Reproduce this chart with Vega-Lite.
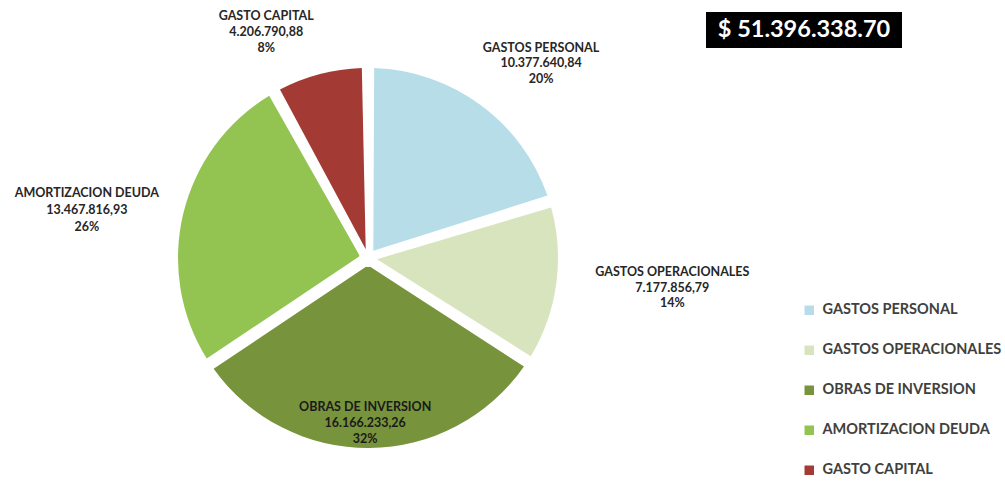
{
  "$schema": "https://vega.github.io/schema/vega-lite/v6.json",
  "width": 736,
  "height": 448,
  "autosize": {"type": "none"},
  "padding": {"left": 0, "top": 34, "right": 269, "bottom": 0},
  "background": "white",
  "config": {"view": {"stroke": null}, "font": "Lato"},
  "layer": [
    {
      "data": {
        "values": [
          {"category": "GASTOS PERSONAL", "value": 10377640.84, "valueText": "10.377.640,84", "pctText": "20%", "order": 1},
          {"category": "GASTOS OPERACIONALES", "value": 7177856.79, "valueText": "7.177.856,79", "pctText": "14%", "order": 2},
          {"category": "OBRAS DE INVERSION", "value": 16166233.26, "valueText": "16.166.233,26", "pctText": "32%", "order": 3},
          {"category": "AMORTIZACION DEUDA", "value": 13467816.93, "valueText": "13.467.816,93", "pctText": "26%", "order": 4},
          {"category": "GASTO CAPITAL", "value": 4206790.88, "valueText": "4.206.790,88", "pctText": "8%", "order": 5}
        ]
      },
      "transform": [
        {"calculate": "[datum.category, datum.valueText, datum.pctText]", "as": "label"},
        {"stack": "value", "groupby": [], "sort": [{"field": "order"}], "offset": "normalize", "as": ["v0", "v1"]},
        {"calculate": "(datum.v0 + datum.v1) / 2", "as": "mid"}
      ],
      "encoding": {
        "theta": {"field": "mid", "type": "quantitative", "stack": null, "scale": {"domain": [0, 1], "zero": true, "nice": false}}
      },
      "layer": [
        {
          "mark": {"type": "arc", "outerRadius": 190, "innerRadius": 9, "padAngle": 0.065},
          "encoding": {
            "theta": {"field": "v0", "type": "quantitative", "stack": null, "scale": {"domain": [0, 1], "zero": true, "nice": false}},
            "theta2": {"field": "v1"},
            "color": {
              "field": "category",
              "type": "nominal",
              "scale": {
                "domain": ["GASTOS PERSONAL", "GASTOS OPERACIONALES", "OBRAS DE INVERSION", "AMORTIZACION DEUDA", "GASTO CAPITAL"],
                "range": ["#B7DEE8", "#D7E4BD", "#77933C", "#93C452", "#A33A33"]
              },
              "legend": {
                "title": null,
                "orient": "none",
                "legendX": 802,
                "legendY": 269,
                "symbolType": "square",
                "symbolSize": 90,
                "symbolStrokeWidth": 0,
                "labelFontSize": 14.5,
                "labelColor": "#404040",
                "labelFont": "Lato",
                "labelFontWeight": "bold",
                "labelLimit": 300,
                "labelOffset": 6,
                "rowPadding": 25
              }
            }
          }
        },
        {
          "transform": [{"filter": "datum.category == 'GASTOS PERSONAL'"}],
          "mark": {"type": "text", "radius": 260, "dx": 19, "dy": -1, "fontSize": 12.5, "fontWeight": "bold", "color": "#262626", "lineHeight": 15.5, "align": "center", "baseline": "middle"},
          "encoding": {"text": {"field": "label"}}
        },
        {
          "transform": [{"filter": "datum.category == 'GASTOS OPERACIONALES'"}],
          "mark": {"type": "text", "radius": 290, "dx": 17, "dy": -25, "fontSize": 12.5, "fontWeight": "bold", "color": "#262626", "lineHeight": 15.5, "align": "center", "baseline": "middle"},
          "encoding": {"text": {"field": "label"}}
        },
        {
          "transform": [{"filter": "datum.category == 'OBRAS DE INVERSION'"}],
          "mark": {"type": "text", "radius": 162, "dx": -4, "dy": -13, "fontSize": 12.5, "fontWeight": "bold", "color": "#1a1a1a", "lineHeight": 16, "align": "center", "baseline": "middle"},
          "encoding": {"text": {"field": "label"}}
        },
        {
          "transform": [{"filter": "datum.category == 'AMORTIZACION DEUDA'"}],
          "mark": {"type": "text", "radius": 290, "dx": 1, "dy": 2, "fontSize": 12.5, "fontWeight": "bold", "color": "#262626", "lineHeight": 17, "align": "center", "baseline": "middle"},
          "encoding": {"text": {"field": "label"}}
        },
        {
          "transform": [{"filter": "datum.category == 'GASTO CAPITAL'"}],
          "mark": {"type": "text", "radius": 235, "dx": -42, "dy": -15, "fontSize": 12.5, "fontWeight": "bold", "color": "#262626", "lineHeight": 16, "align": "center", "baseline": "middle"},
          "encoding": {"text": {"field": "label"}}
        }
      ]
    },
    {
      "data": {"values": [{"total": "$ 51.396.338.70"}]},
      "mark": {"type": "rect", "x": 706, "x2": 902, "y": -22, "y2": 14, "color": "black"},
      "encoding": {}
    },
    {
      "data": {"values": [{"total": "$ 51.396.338.70"}]},
      "mark": {"type": "text", "x": 804, "y": -4, "align": "center", "baseline": "middle", "fontSize": 23.5, "fontWeight": "bold", "color": "white", "font": "Lato"},
      "encoding": {"text": {"field": "total"}}
    }
  ]
}
